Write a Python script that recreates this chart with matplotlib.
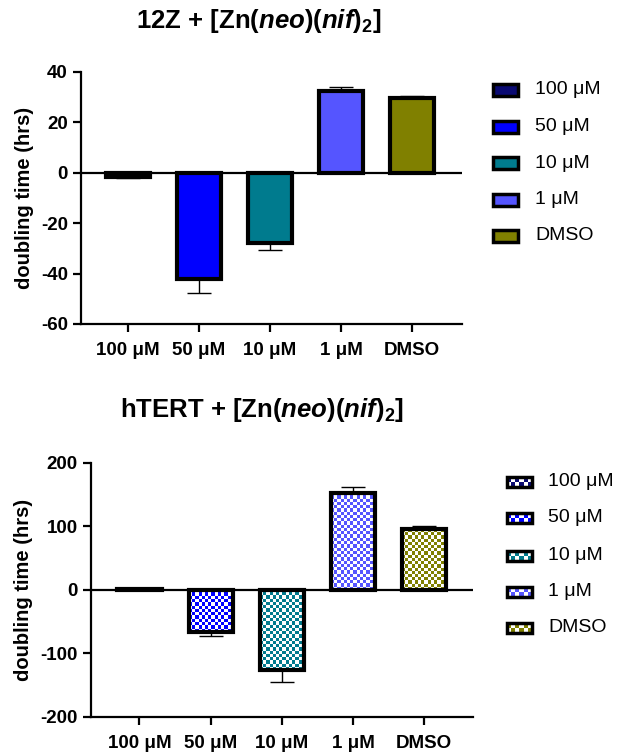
import numpy as np
import matplotlib
matplotlib.use("Agg")
from matplotlib import pyplot as plt
from matplotlib.patches import Rectangle

plt.rcParams['font.family'] = ['Liberation Sans', 'DejaVu Sans']
plt.rcParams['axes.unicode_minus'] = False
plt.rcParams['mathtext.fontset'] = 'custom'
plt.rcParams['mathtext.rm'] = 'Liberation Sans:bold'
plt.rcParams['mathtext.bf'] = 'Liberation Sans:bold'
plt.rcParams['mathtext.it'] = 'Liberation Sans:bold:italic'

# data
groups = ['100 μM', '50 μM', '10 μM', '1 μM', 'DMSO']
colors = ['#0a0a72', '#0000ff', '#007b8e', '#5555ff', '#808000']

top_vals = [-1.6, -42.3, -28.0, 32.5, 29.8]
top_err = [0.5, 5.3, 2.8, 1.4, 0.8]

bot_vals = [1.2, -67.0, -127.0, 153.0, 96.0]
bot_err = [0.8, 6.0, 18.0, 9.0, 4.0]

W, H = 618, 752
fig = plt.figure(figsize=(W / 100, H / 100), dpi=100)

def fx(px):
    return px / W

def fy(py):
    return 1 - py / H

# axes positions in pixels (left, top, right, bottom)
ax1 = fig.add_axes([fx(81), fy(324), fx(462 - 81), (324 - 72) / H])
ax2 = fig.add_axes([fx(91), fy(716.7), fx(472.7 - 91), (716.7 - 462.7) / H])

x = np.arange(len(groups))
bw = 0.62
lw_edge = 3.0


def style_axes(ax, ylim, yticks, xlim):
    ax.set_xlim(xlim)
    ax.set_ylim(ylim)
    ax.set_yticks(yticks)
    ax.set_xticks(x)
    ax.set_xticklabels(groups)
    for s in ['top', 'right']:
        ax.spines[s].set_visible(False)
    for s in ['left', 'bottom']:
        ax.spines[s].set_linewidth(1.6)
    ax.tick_params(width=1.6, length=6, direction='out', labelsize=13.5)
    ax.tick_params(axis='x', pad=7)
    for lab in ax.get_xticklabels() + ax.get_yticklabels():
        lab.set_fontweight('bold')
    ax.axhline(0, color='black', lw=1.6, zorder=4)
    ax.set_ylabel('doubling time (hrs)', fontsize=14.5, fontweight='bold', labelpad=5)


def err_bars(ax, vals, errs):
    lo = [e if v < 0 else 0 for v, e in zip(vals, errs)]
    hi = [e if v >= 0 else 0 for v, e in zip(vals, errs)]
    ax.errorbar(x, vals, yerr=[lo, hi], fmt='none', ecolor='black', elinewidth=1.0,
                capsize=8.3, capthick=1.0, zorder=2)


def checker(ax, x0, x1, y0, y1, color, cw, ch, z=2.5):
    # checker image filling a rectangle, cell size cw x ch (data units)
    nx = max(1, int(round(abs(x1 - x0) / cw)))
    ny = max(1, int(round(abs(y1 - y0) / ch)))
    ii, jj = np.meshgrid(np.arange(nx), np.arange(ny))
    mask = (ii + jj) % 2 == 0
    rgb = np.array(matplotlib.colors.to_rgb(color))
    img = np.ones((ny, nx, 3))
    img[mask] = rgb
    ax.imshow(img, extent=[x0, x1, min(y0, y1), max(y0, y1)], origin='lower',
              interpolation='nearest', aspect='auto', zorder=z)


# top chart: solid bars
xlim1 = (-0.66, 4.70)
ax1.bar(x, top_vals, width=bw, color=colors, edgecolor='black', linewidth=lw_edge, zorder=3)
err_bars(ax1, top_vals, top_err)
style_axes(ax1, (-60, 40), [-60, -40, -20, 0, 20, 40], xlim1)

# bottom chart: checkered bars
xlim2 = (-0.68, 4.68)
style_axes(ax2, (-200, 200), [-200, -100, 0, 100, 200], xlim2)
px_x = (472.7 - 91) / (xlim2[1] - xlim2[0])
px_y = 254 / 400
for xi, v, c in zip(x, bot_vals, colors):
    checker(ax2, xi - bw / 2, xi + bw / 2, 0, v, c, 3.2 / px_x, 3.2 / px_y)
ax2.bar(x, bot_vals, width=bw, facecolor='none', edgecolor='black', linewidth=lw_edge, zorder=3)
err_bars(ax2, bot_vals, bot_err)
ax2.set_xlim(xlim2)
ax2.set_ylim(-200, 200)

# overlay in pixel coords for titles and legends
ov = fig.add_axes([0, 0, 1, 1])
ov.set_xlim(0, W)
ov.set_ylim(H, 0)
ov.axis('off')

ov.text(259, 21, r'12Z + [Zn($\mathit{neo}$)($\mathit{nif}$)$_{2}$]', fontsize=18.5,
        fontweight='bold', ha='center', va='center')
ov.text(262, 410, r'hTERT + [Zn($\mathit{neo}$)($\mathit{nif}$)$_{2}$]', fontsize=18.5,
        fontweight='bold', ha='center', va='center')

rows1 = [90, 126.7, 163, 200, 235.7]
for r, g, c in zip(rows1, groups, colors):
    ov.add_patch(Rectangle((493, r - 6), 25, 12, facecolor=c, edgecolor='black', lw=2.5))
    ov.text(535, r, g, fontsize=14, va='center', ha='left')

rows2 = [481.7, 518, 555.7, 592, 628]
for r, g, c in zip(rows2, groups, colors):
    checker(ov, 507, 532, r - 5, r + 5, c, 4.0, 4.0, z=1)
    ov.add_patch(Rectangle((507, r - 5), 25, 10, facecolor='none', edgecolor='black', lw=2.5, zorder=2))
    ov.text(548, r, g, fontsize=14, va='center', ha='left')
ov.set_xlim(0, W)
ov.set_ylim(H, 0)

fig.savefig('out.png', dpi=100)
